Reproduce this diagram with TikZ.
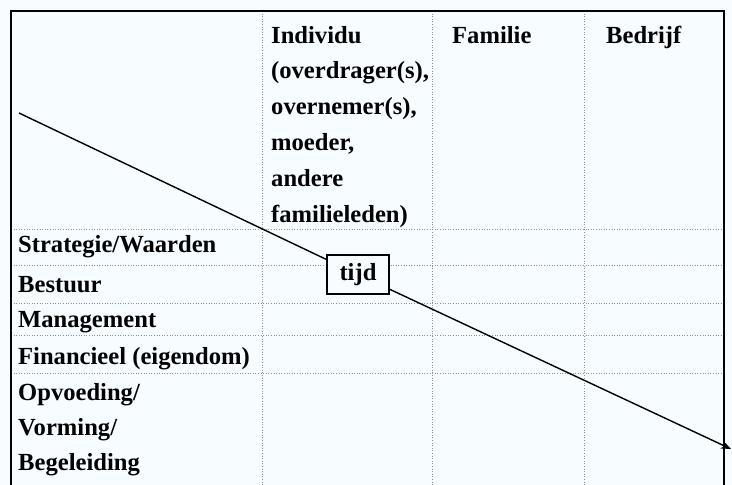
\documentclass[tikz,border=0pt]{standalone}
\usepackage{fontspec}
\setmainfont{Liberation Serif}
\usetikzlibrary{arrows.meta}
\definecolor{paper}{RGB}{246,252,255}
\definecolor{gridgray}{RGB}{140,145,150}
\tikzset{
  grid line/.style={gridgray, line width=0.7pt, dash pattern=on 1pt off 1.6pt},
  frame line/.style={black, line width=1.3pt},
  cell text/.style={anchor=base west, inner sep=0pt, align=left,
    font=\bfseries\fontsize{24.6}{35.8}\selectfont},
  time box/.style={draw, line width=1.2pt, fill=paper, minimum width=62pt,
    minimum height=39pt, inner sep=0pt, font=\bfseries\fontsize{24.6}{28}\selectfont},
  time line/.style={line width=1.4pt, -{Stealth[length=10pt,width=8pt]}}
}
\begin{document}
\begin{tikzpicture}[x=1pt,y=-1pt]
  % page and background
  \fill[paper] (0,0) rectangle (732,485);
  \useasboundingbox (0,0) rectangle (732,485);

  % dotted grid
  \foreach \yy in {229,265,303,335,373}
    \draw[grid line] (11,\yy) -- (724,\yy);
  \foreach \xx in {262,432,584}
    \draw[grid line] (\xx,11) -- (\xx,485);

  % outer frame (open at the bottom)
  \draw[frame line] (11,485) -- (11,11) -- (724,11) -- (724,485);

  % column headers (multi-line nodes sit on their last baseline)
  \node[cell text] (hInd) at (271,222) {Individu\\(overdrager(s),\\overnemer(s),\\moeder,\\andere\\familieleden)};
  \node[cell text] (hFam) at (452,43) {Familie};
  \node[cell text] (hBed) at (606,43) {Bedrijf};

  % row headers
  \node[cell text] (rStr) at (18,252) {Strategie/Waarden};
  \node[cell text] (rBes) at (18,292) {Bestuur};
  \node[cell text] (rMan) at (18,327) {Management};
  \node[cell text] (rFin) at (18,364) {Financieel (eigendom)};
  \node[cell text, font=\bfseries\fontsize{24.6}{35}\selectfont] (rOpv) at (18,470) {Opvoeding/\\Vorming/\\Begeleiding};

  % time axis
  \coordinate (tStart) at (19,113);
  \coordinate (tEnd) at (731,449);
  \node[time box] (tijd) at (358,274.5) {tijd};
  \draw[time line] (tStart) -- (tijd) -- (tEnd);
\end{tikzpicture}
\end{document}
